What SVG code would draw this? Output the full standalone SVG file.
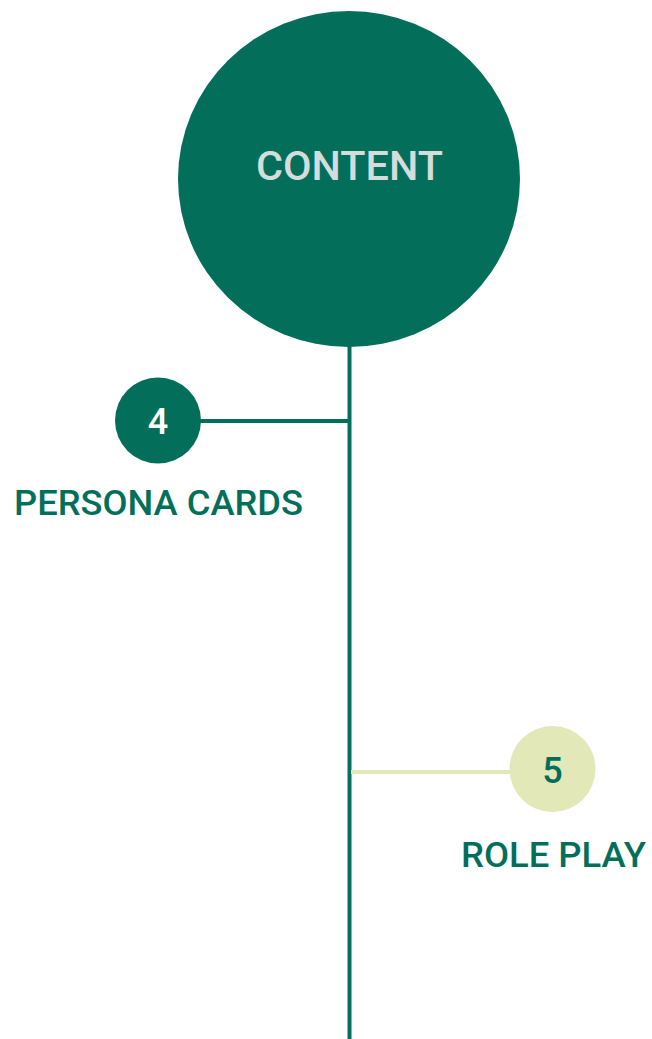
<svg xmlns="http://www.w3.org/2000/svg" width="652" height="1039" viewBox="0 0 652 1039">
  <style>
    .dark { fill: #036f5b; }
    .light { fill: #e2e8b8; }
    .lbl { font-family: Roboto, "Liberation Sans", sans-serif; font-weight: 500; fill: #036f5b; }
    .num { font-family: Roboto, "Liberation Sans", sans-serif; font-weight: 500; text-anchor: middle; }
  </style>
  <g id="connectors">
    <line x1="349.5" y1="340" x2="349.5" y2="1039" stroke="#036f5b" stroke-width="4"/>
    <line x1="195" y1="421" x2="349.5" y2="421" stroke="#036f5b" stroke-width="4"/>
    <line x1="351" y1="772" x2="515" y2="772" stroke="#e2e8b8" stroke-width="4"/>
  </g>
  <g id="content">
    <ellipse cx="349" cy="179" rx="171" ry="168" class="dark"/>
    <text x="256" y="180" font-family="Roboto, 'Liberation Sans', sans-serif" font-size="41" font-weight="500" fill="#d5dcdc" textLength="187" lengthAdjust="spacingAndGlyphs">CONTENT</text>
  </g>
  <g id="node4">
    <circle cx="158" cy="420.5" r="43" class="dark"/>
    <text x="158" y="434" class="num" font-size="36" fill="#ffffff">4</text>
    <text x="14" y="515" class="lbl" font-size="35" textLength="289" lengthAdjust="spacingAndGlyphs">PERSONA CARDS</text>
  </g>
  <g id="node5">
    <circle cx="552.5" cy="769" r="43" class="light"/>
    <text x="552.5" y="783" class="num" font-size="36" fill="#036f5b">5</text>
    <text x="461" y="867" class="lbl" font-size="35" textLength="185" lengthAdjust="spacingAndGlyphs">ROLE PLAY</text>
  </g>
</svg>
